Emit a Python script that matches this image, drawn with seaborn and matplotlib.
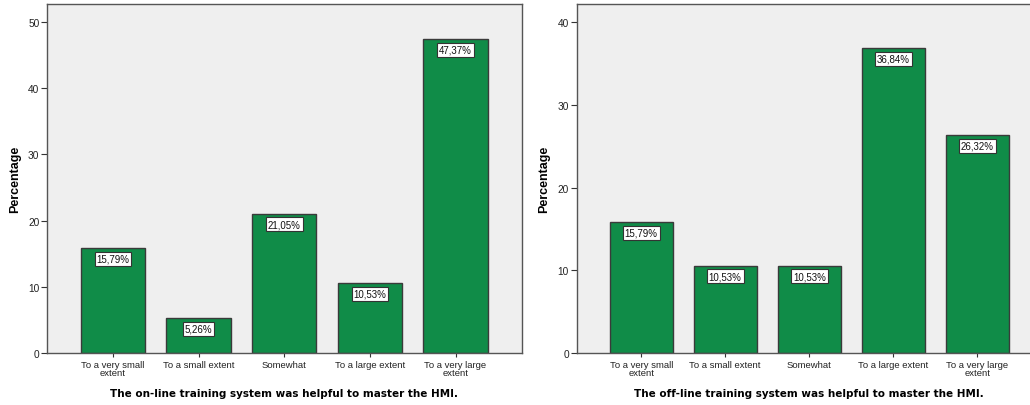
import pandas as pd
import seaborn as sns
import matplotlib.pyplot as plt

# data
categories = ["To a very small\nextent", "To a small extent", "Somewhat",
              "To a large extent", "To a very large\nextent"]
online_pct = [15.79, 5.26, 21.05, 10.53, 47.37]
offline_pct = [15.79, 10.53, 10.53, 36.84, 26.32]
titles = ["The on-line training system was helpful to master the HMI.",
          "The off-line training system was helpful to master the HMI."]
y_ticks = [[0, 10, 20, 30, 40, 50], [0, 10, 20, 30, 40]]
y_max = [52.7, 42.2]

sns.set_style("white")
plt.rcParams['font.family'] = ['Liberation Sans', 'DejaVu Sans']

bar_color = "#108c48"
bg_color = "#efefef"
edge_color = "#3a3a3a"

fig = plt.figure(figsize=(10.3, 4.06), dpi=100)
W, H = 1030, 406
# axes boxes in pixels: left, top, right, bottom
boxes = [(47, 5, 521.5, 354), (576.5, 5, 1042, 354)]

for i, values in enumerate([online_pct, offline_pct]):
    l, t, r, b = boxes[i]
    ax = fig.add_axes([l / W, 1 - b / H, (r - l) / W, (b - t) / H])
    df = pd.DataFrame({"category": categories, "pct": values})
    sns.barplot(data=df, x="category", y="pct", color=bar_color, width=0.75,
                edgecolor=edge_color, linewidth=1.0, saturation=1, ax=ax)
    ax.set_facecolor(bg_color)
    ax.set_xlim(-0.77, 4.77)
    ax.set_ylim(0, y_max[i])
    ax.set_yticks(y_ticks[i])
    for s in ax.spines.values():
        s.set_color("#555555")
        s.set_linewidth(1.0)
    ax.tick_params(axis="y", left=True, length=4, width=0.8, color="#333333",
                   labelsize=7.3, labelcolor="#222222", pad=1.5)
    ax.tick_params(axis="x", bottom=True, direction="inout", length=6, width=0.8,
                   color="#333333", labelsize=6.8, labelcolor="#222222", pad=2)
    for lab in ax.get_xticklabels():
        lab.set_linespacing(0.85)
    ax.set_ylabel("Percentage", fontsize=9, fontweight="bold", color="black",
                  labelpad=5)
    ax.set_xlabel(titles[i], fontsize=7.5, fontweight="bold", color="black",
                  family=["DejaVu Sans"], labelpad=8)
    for j, v in enumerate(values):
        ax.annotate(f"{v:.2f}%".replace(".", ","), xy=(j, v), xytext=(0, -7.5),
                    textcoords="offset points", ha="center", va="center",
                    fontsize=7, color="#111111",
                    bbox=dict(boxstyle="square,pad=0.2", fc="white",
                              ec="#333333", lw=0.8))

fig.savefig("out.png", dpi=100)
